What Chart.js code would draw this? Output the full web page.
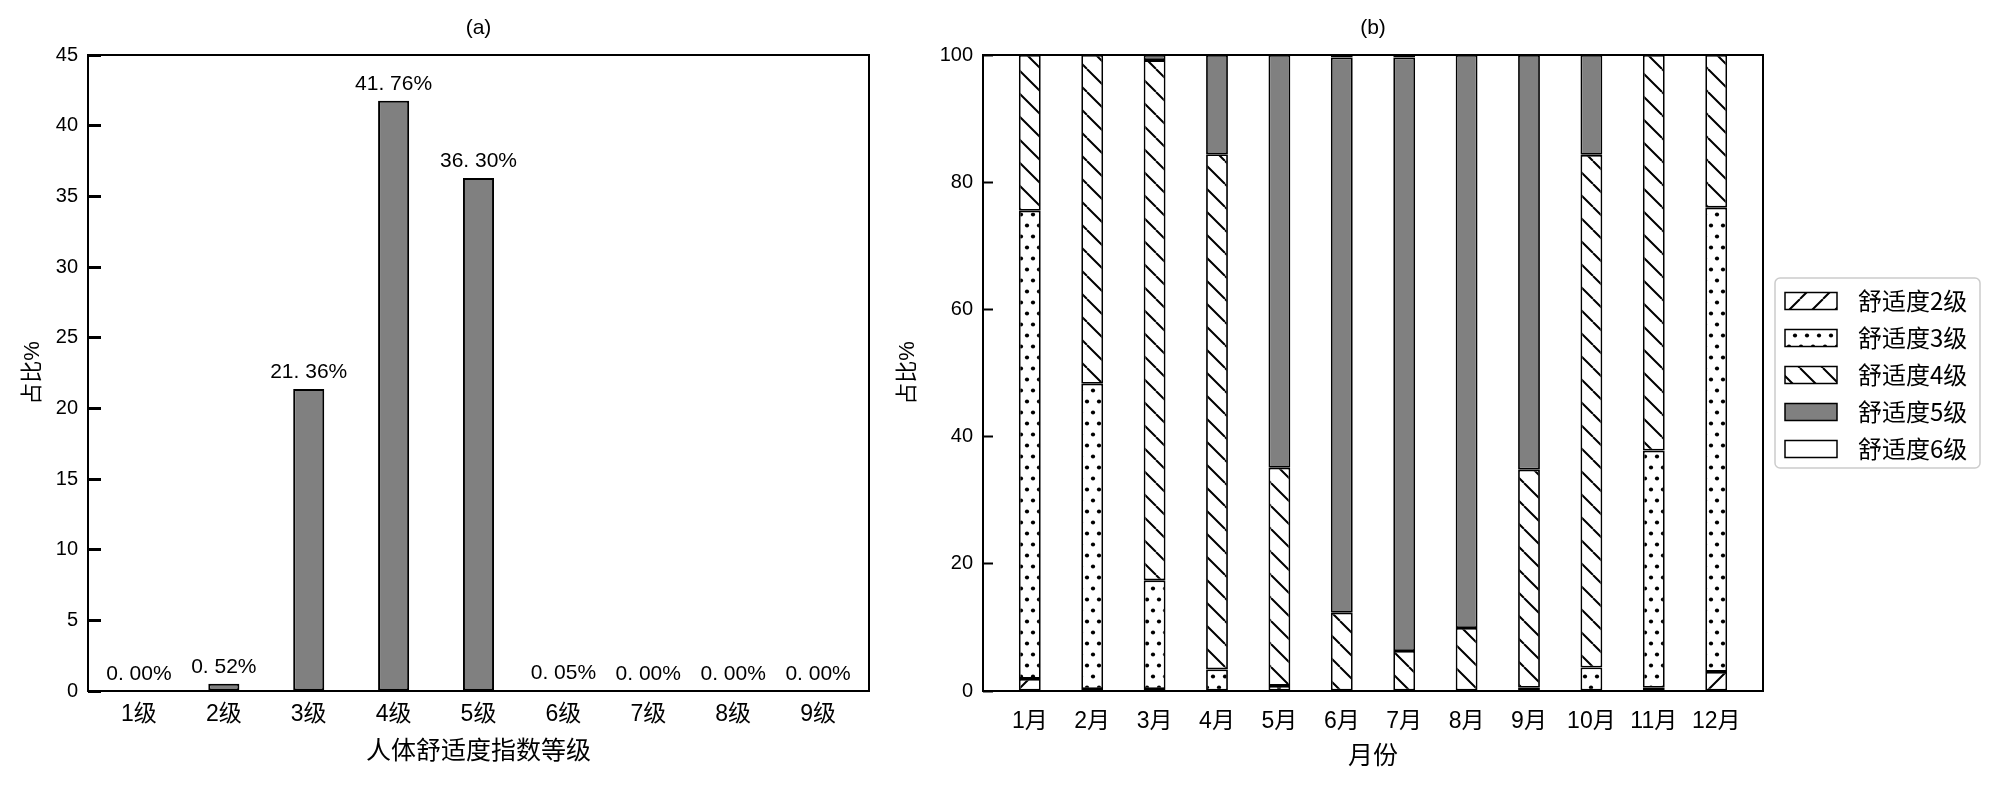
<!DOCTYPE html>
<html>
<head>
<meta charset="utf-8">
<script src="https://cdn.jsdelivr.net/npm/chart.js@4.4.0/dist/chart.umd.min.js"></script>
<style>
  body { margin: 0; background: #fff; }
  #wrap { position: relative; width: 2000px; height: 788px; }
  canvas { position: absolute; top: 0; }
  #chartA { left: 0; }
  #chartB { left: 880px; }
</style>
</head>
<body>
<div id="wrap">
  <canvas id="chartA" width="880" height="788"></canvas>
  <canvas id="chartB" width="1120" height="788"></canvas>
</div>
<script>
// (a) share of each comfort grade, %
const grades = ['1级', '2级', '3级', '4级', '5级', '6级', '7级', '8级', '9级'];
const gradeShare = [0, 0.52, 21.36, 41.76, 36.30, 0.05, 0, 0, 0];

// (b) monthly share of comfort levels 2-6, %
const months = ['1月', '2月', '3月', '4月', '5月', '6月', '7月', '8月', '9月', '10月', '11月', '12月'];
const levelNames = ['舒适度2级', '舒适度3级', '舒适度4级', '舒适度5级', '舒适度6级'];
const level2 = [1.9, 0.3, 0.3, 0, 0, 0, 0, 0, 0, 0, 0.5, 3.0];
const level3 = [73.6, 48.0, 17.1, 3.4, 0.8, 0, 0, 0, 0.5, 3.7, 37.3, 73.0];
const level4 = [24.5, 51.7, 81.8, 81.0, 34.3, 12.3, 6.3, 9.9, 34.3, 80.6, 62.2, 24.0];
const level5 = [0, 0, 0.8, 15.6, 64.9, 87.3, 93.3, 90.1, 65.2, 15.7, 0, 0];
const level6 = [0, 0, 0, 0, 0, 0.4, 0.4, 0, 0, 0, 0, 0];

const FONT = '"Liberation Sans", "Noto Sans CJK SC", sans-serif';
Chart.defaults.font.family = FONT;
Chart.defaults.color = '#000';

// hatch tiles
function makeTile(kind) {
  const c = document.createElement('canvas');
  const g = c.getContext('2d');
  if (kind === 'dots') {
    // staggered dots
    c.width = 12; c.height = 22;
    g.fillStyle = '#fff'; g.fillRect(0, 0, 12, 22);
    g.fillStyle = '#000';
    g.beginPath(); g.arc(3, 5.5, 2.1, 0, Math.PI * 2); g.fill();
    g.beginPath(); g.arc(9, 16.5, 2.1, 0, Math.PI * 2); g.fill();
  } else {
    const s = 23;
    c.width = s; c.height = s;
    g.fillStyle = '#fff'; g.fillRect(0, 0, s, s);
    g.strokeStyle = '#000'; g.lineWidth = 2;
    g.beginPath();
    for (let k = -1; k <= 1; k++) {
      if (kind === 'back') { g.moveTo(k * s, 0); g.lineTo(k * s + s, s); }
      else { g.moveTo(k * s, s); g.lineTo(k * s + s, 0); }
    }
    g.stroke();
  }
  return c;
}

// box around plot + panel title
const framePlugin = {
  id: 'frame',
  afterDraw(chart, args, opts) {
    const { ctx, chartArea: a } = chart;
    ctx.save();
    ctx.strokeStyle = '#000';
    ctx.lineWidth = 2;
    ctx.strokeRect(a.left, a.top, a.right - a.left, a.bottom - a.top);
    ctx.fillStyle = '#000';
    ctx.font = '21px ' + FONT;
    ctx.textAlign = 'center';
    ctx.textBaseline = 'middle';
    ctx.fillText(opts.text, (a.left + a.right) / 2, 28);
    ctx.restore();
  }
};

// percentage labels above the bars in (a)
const barLabels = {
  id: 'barLabels',
  afterDatasetsDraw(chart) {
    const ctx = chart.ctx;
    const meta = chart.getDatasetMeta(0);
    ctx.save();
    ctx.font = '21px ' + FONT;
    ctx.fillStyle = '#000';
    ctx.textAlign = 'center';
    ctx.textBaseline = 'alphabetic';
    meta.data.forEach((bar, i) => {
      ctx.fillText(gradeShare[i].toFixed(2).replace('.', '. ') + '%', bar.x, bar.y - 11);
    });
    ctx.restore();
  }
};

// legend in a rounded box for (b)
const boxLegend = {
  id: 'boxLegend',
  afterDraw(chart) {
    const { ctx, chartArea: a } = chart;
    const left = a.right + 12;
    const top = (a.top + a.bottom) / 2 - 95;
    ctx.save();
    ctx.strokeStyle = '#cccccc';
    ctx.lineWidth = 1.5;
    ctx.beginPath();
    ctx.roundRect(left, top, 205, 190, 5);
    ctx.stroke();
    ctx.font = '24px "Noto Sans CJK SC", sans-serif';
    ctx.textBaseline = 'middle';
    chart.data.datasets.forEach((ds, i) => {
      const cy = top + 23 + i * 37;
      ctx.fillStyle = ds.backgroundColor;
      ctx.fillRect(left + 10, cy - 8.5, 52, 17);
      ctx.strokeStyle = '#000';
      ctx.lineWidth = 1.5;
      ctx.strokeRect(left + 10, cy - 8.5, 52, 17);
      ctx.fillStyle = '#000';
      ctx.fillText(ds.label, left + 83, cy);
    });
    ctx.restore();
  }
};

// ---------- (a) ----------
const ctxA = document.getElementById('chartA').getContext('2d');
new Chart(ctxA, {
  type: 'bar',
  data: {
    datasets: [{
      data: gradeShare.map((v, i) => ({ x: i, y: v })),
      backgroundColor: '#808080',
      borderColor: '#000',
      borderWidth: 2,
      borderSkipped: false,
      categoryPercentage: 1,
      barPercentage: 0.366
    }]
  },
  options: {
    responsive: false,
    animation: false,
    devicePixelRatio: 1,
    layout: { padding: { top: 55, right: 11, left: 0, bottom: 0 } },
    plugins: { legend: { display: false }, tooltip: { enabled: false }, frame: { text: '(a)' } },
    scales: {
      x: {
        type: 'linear', bounds: 'data', offset: false, min: -0.6, max: grades.length - 0.4,
        afterBuildTicks: s => { s.ticks = grades.map((_, i) => ({ value: i })); },
        afterFit: s => { s.height = 97; },
        grid: { display: false, drawTicks: false },
        border: { display: false },
        ticks: { autoSkip: false, maxRotation: 0, padding: 10, font: { size: 23 }, callback: v => grades[v] },
        title: { display: true, text: '人体舒适度指数等级', font: { size: 25 }, padding: { top: 0, bottom: 21 } }
      },
      y: {
        min: 0, max: 45,
        afterFit: s => { s.width = 88; },
        border: { display: false },
        grid: { drawOnChartArea: false, drawTicks: true, tickLength: -13, tickWidth: 3, tickColor: '#000' },
        ticks: { stepSize: 5, padding: 23, font: { size: 20 } },
        title: { display: true, text: '占比%', font: { size: 22 }, padding: { top: 20, bottom: 0 } }
      }
    }
  },
  plugins: [framePlugin, barLabels]
});

// ---------- (b) ----------
const ctxB = document.getElementById('chartB').getContext('2d');
const fills = [
  ctxB.createPattern(makeTile('fwd'), 'repeat'),
  ctxB.createPattern(makeTile('dots'), 'repeat'),
  ctxB.createPattern(makeTile('back'), 'repeat'),
  '#808080',
  '#ffffff'
];
const levels = [level2, level3, level4, level5, level6];

new Chart(ctxB, {
  type: 'bar',
  data: {
    datasets: levels.map((vals, k) => ({
      label: levelNames[k],
      data: vals.map((v, i) => ({ x: i, y: v })),
      backgroundColor: fills[k],
      borderColor: '#000',
      borderWidth: 1.8,
      borderSkipped: false,
      categoryPercentage: 1,
      barPercentage: 0.35
    }))
  },
  options: {
    responsive: false,
    animation: false,
    devicePixelRatio: 1,
    layout: { padding: { top: 55, right: 237, left: 0, bottom: 0 } },
    plugins: { legend: { display: false }, tooltip: { enabled: false }, frame: { text: '(b)' } },
    scales: {
      x: {
        type: 'linear', bounds: 'data', offset: false, stacked: true, min: -0.75, max: months.length - 0.25,
        afterBuildTicks: s => { s.ticks = months.map((_, i) => ({ value: i })); },
        afterFit: s => { s.height = 97; },
        grid: { display: false, drawTicks: false },
        border: { display: false },
        ticks: { autoSkip: false, maxRotation: 0, padding: 17, font: { size: 23 }, callback: v => months[v] },
        title: { display: true, text: '月份', font: { size: 25 }, padding: { top: 0, bottom: 16 } }
      },
      y: {
        stacked: true, min: 0, max: 100,
        afterFit: s => { s.width = 103; },
        border: { display: false },
        grid: { drawOnChartArea: false, drawTicks: true, tickLength: -10, tickWidth: 2, tickColor: '#000' },
        ticks: { stepSize: 20, padding: 20, font: { size: 20 } },
        title: { display: true, text: '占比%', font: { size: 22 }, padding: { top: 15, bottom: 0 } }
      }
    }
  },
  plugins: [framePlugin, boxLegend]
});
</script>
</body>
</html>
